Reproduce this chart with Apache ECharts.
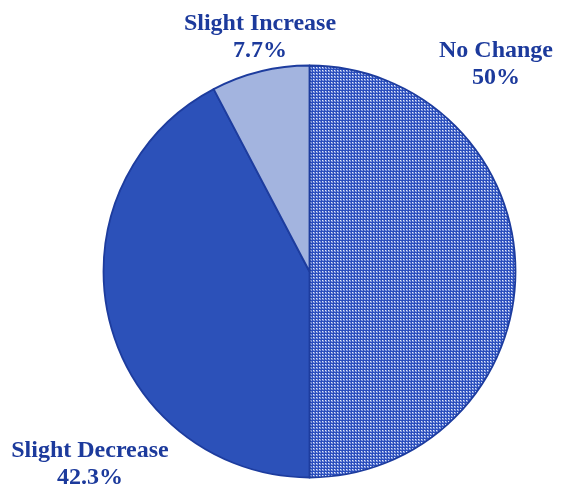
<!DOCTYPE html>
<html>
<head>
<meta charset="utf-8">
<script src="https://cdn.jsdelivr.net/npm/echarts@6/dist/echarts.min.js"></script>
<style>
  html, body { margin: 0; padding: 0; background: #fff; }
  #main { width: 562px; height: 488px; }
</style>
</head>
<body>
<div id="main"></div>
<script>
// chart data
var categories = ["No Change", "Slight Decrease", "Slight Increase"];
var percents = [50, 42.3, 7.7];

// checkered fill for the "No Change" slice
function checker() {
  var c = document.createElement("canvas");
  c.width = 3;
  c.height = 3;
  var ctx = c.getContext("2d");
  ctx.fillStyle = "#2a4ebd";
  ctx.fillRect(0, 0, 3, 3);
  ctx.fillStyle = "#e2e9fb";
  ctx.fillRect(1, 1, 1, 1);
  ctx.fillStyle = "#6f88d6";
  ctx.fillRect(2, 1, 1, 1);
  ctx.fillRect(1, 2, 1, 1);
  ctx.fillStyle = "#8ea3e0";
  ctx.fillRect(2, 2, 1, 1);
  return c;
}

var sliceColors = [
  { image: checker(), repeat: "repeat" },
  "#2c51b9",
  "#a3b4df"
];
// where each label block sits (centre of the two-line text)
var labelSpots = [[496, 64], [90, 464], [260, 37]];

var myChart = echarts.init(document.getElementById("main"));
var option = {
  animation: false,
  series: [
    {
      type: "pie",
      center: [309.5, 271.5],
      radius: 206,
      startAngle: 90,
      clockwise: true,
      silent: true,
      data: categories.map(function (name, i) {
        return { name: name, value: percents[i], itemStyle: { color: sliceColors[i] } };
      }),
      itemStyle: { borderColor: "#1d3c9e", borderWidth: 1.8 },
      label: {
        show: true,
        position: "outside",
        formatter: "{b}\n{c}%",
        fontFamily: "Liberation Serif",
        fontWeight: "bold",
        fontSize: 24,
        lineHeight: 27,
        color: "#1c3a9c",
        align: "center",
        overflow: "none",
        width: 220
      },
      labelLine: { show: false },
      labelLayout: function (params) {
        var p = labelSpots[params.dataIndex];
        return { x: p[0], y: p[1], align: "center", verticalAlign: "middle", hideOverlap: false };
      }
    }
  ]
};
myChart.setOption(option);
</script>
</body>
</html>
